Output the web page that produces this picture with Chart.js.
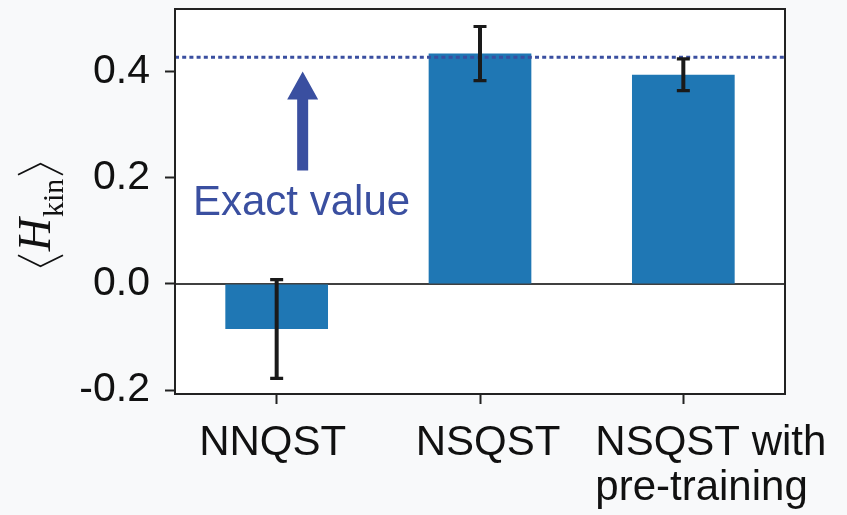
<!DOCTYPE html>
<html>
<head>
<meta charset="utf-8">
<script src="https://cdn.jsdelivr.net/npm/chart.js@4.4.1/dist/chart.umd.min.js"></script>
<style>
  html, body { margin: 0; padding: 0; background: #f8f9fa; }
  #grafico { display: block; }
</style>
</head>
<body>
<canvas id="grafico" width="847" height="515"></canvas>
<script>
// Dados do gráfico
const categorias = ['NNQST', 'NSQST', ['NSQST with', 'pre-training']];
const valores = [-0.085, 0.434, 0.394];
const erros = [0.093, 0.051, 0.030];
const valorExato = 0.427;
const ticksY = [-0.2, 0.0, 0.2, 0.4];
const limitesY = [-0.2075, 0.518];

const corBarra = '#1f77b4';
const corAzul = '#3a4fa0';
const corEixo = '#222222';
const fonte = "'Liberation Sans', Arial, sans-serif";

// Fundo: cinza claro fora, branco dentro da área do gráfico
const fundo = {
    id: 'fundo',
    beforeDraw(chart) {
        const { ctx, chartArea: a } = chart;
        ctx.save();
        ctx.fillStyle = '#f8f9fa';
        ctx.fillRect(0, 0, chart.width, chart.height);
        ctx.fillStyle = '#ffffff';
        ctx.fillRect(a.left, a.top, a.right - a.left, a.bottom - a.top);
        ctx.restore();
    },
    beforeDatasetsDraw(chart) {
        // linha do zero
        const { ctx, chartArea: a, scales: { y } } = chart;
        const y0 = y.getPixelForValue(0);
        ctx.save();
        ctx.strokeStyle = '#000';
        ctx.lineWidth = 1.5;
        ctx.beginPath();
        ctx.moveTo(a.left, y0);
        ctx.lineTo(a.right, y0);
        ctx.stroke();
        ctx.restore();
    }
};

// Linha pontilhada do valor exato + barras de erro
const extras = {
    id: 'extras',
    afterDatasetsDraw(chart) {
        const { ctx, chartArea: a, scales: { y } } = chart;
        ctx.save();
        const yEx = y.getPixelForValue(valorExato);
        ctx.strokeStyle = corAzul;
        ctx.lineWidth = 3;
        ctx.setLineDash([4, 3.2]);
        ctx.beginPath();
        ctx.moveTo(a.left, yEx);
        ctx.lineTo(a.right, yEx);
        ctx.stroke();
        ctx.setLineDash([]);

        const meta = chart.getDatasetMeta(0);
        ctx.strokeStyle = '#1a1a1a';
        meta.data.forEach((barra, i) => {
            const x = barra.x;
            const yA = y.getPixelForValue(valores[i] + erros[i]);
            const yB = y.getPixelForValue(valores[i] - erros[i]);
            ctx.lineWidth = 4;
            ctx.beginPath();
            ctx.moveTo(x, yA); ctx.lineTo(x, yB);
            ctx.stroke();
            ctx.lineWidth = 3.2;
            ctx.beginPath();
            ctx.moveTo(x - 6.5, yA); ctx.lineTo(x + 6.5, yA);
            ctx.moveTo(x - 6.5, yB); ctx.lineTo(x + 6.5, yB);
            ctx.stroke();
        });
        ctx.restore();
    },
    afterDraw(chart) {
        const { ctx, chartArea: a, scales: { x, y } } = chart;
        ctx.save();
        // moldura completa
        ctx.strokeStyle = corEixo;
        ctx.lineWidth = 2;
        ctx.strokeRect(a.left, a.top, a.right - a.left, a.bottom - a.top);

        // seta e texto "Exact value"
        const xs = x.getPixelForValue(0) + 26;
        const yPonta = y.getPixelForValue(0.4);
        ctx.fillStyle = corAzul;
        ctx.beginPath();
        ctx.moveTo(xs, yPonta);
        ctx.lineTo(xs + 15.5, yPonta + 28);
        ctx.lineTo(xs + 5.5, yPonta + 28);
        ctx.lineTo(xs + 5.5, yPonta + 99);
        ctx.lineTo(xs - 5.5, yPonta + 99);
        ctx.lineTo(xs - 5.5, yPonta + 28);
        ctx.lineTo(xs - 15.5, yPonta + 28);
        ctx.closePath();
        ctx.fill();
        ctx.font = '42px ' + fonte;
        ctx.textAlign = 'left';
        ctx.textBaseline = 'alphabetic';
        ctx.fillText('Exact value', 193, 215);

        // rótulos do eixo x
        ctx.fillStyle = '#111';
        categorias.forEach((cat, i) => {
            const cx = x.getPixelForValue(i);
            if (Array.isArray(cat)) {
                ctx.textAlign = 'left';
                cat.forEach((linha, j) => ctx.fillText(linha, cx - 88, 455 + j * 45));
            } else {
                ctx.textAlign = 'center';
                ctx.fillText(cat, cx + (i === 0 ? -4 : 8), 455);
            }
        });

        // título do eixo y: <H_kin>
        ctx.translate(40, 215);
        ctx.rotate(-Math.PI / 2);
        ctx.strokeStyle = '#111';
        ctx.lineWidth = 1.8;
        const fH = "italic 46px 'Liberation Serif', serif";
        const fSub = "30px 'Liberation Serif', serif";
        ctx.font = fH; const wH = ctx.measureText('H').width;
        ctx.font = fSub; const wSub = ctx.measureText('kin').width;
        const wBr = 11, gap = 4;
        const total = wBr + gap + wH + 1 + wSub + gap + wBr;
        let px = -total / 2;
        ctx.beginPath();
        ctx.moveTo(px + wBr, -22); ctx.lineTo(px, 0.5); ctx.lineTo(px + wBr, 23);
        ctx.stroke();
        px += wBr + gap;
        ctx.textAlign = 'left';
        ctx.font = fH;
        ctx.fillText('H', px, 10);
        px += wH + 1;
        ctx.font = fSub;
        ctx.fillText('kin', px, 23);
        px += wSub + gap;
        ctx.beginPath();
        ctx.moveTo(px, -22); ctx.lineTo(px + wBr, 0.5); ctx.lineTo(px, 23);
        ctx.stroke();
        ctx.restore();
    }
};

// Ajusta o tamanho fixo dos eixos e remove o espaço extra dos rótulos
function fixarEixo(s, tamanho) {
    if (s.isHorizontal()) s.height = tamanho; else s.width = tamanho;
    s.paddingTop = 0; s.paddingBottom = 0;
    s.paddingLeft = 0; s.paddingRight = 0;
}

const ctx = document.getElementById('grafico').getContext('2d');
new Chart(ctx, {
    type: 'bar',
    data: {
        labels: categorias,
        datasets: [{
            data: valores,
            backgroundColor: corBarra,
            borderWidth: 0,
            barPercentage: 0.505,
            categoryPercentage: 1.0
        }]
    },
    options: {
        responsive: false,
        animation: false,
        devicePixelRatio: 1,
        layout: { padding: { top: 9, right: 62, left: 0, bottom: 0 } },
        plugins: { legend: { display: false }, tooltip: { enabled: false } },
        scales: {
            x: {
                afterFit: (s) => fixarEixo(s, 121),
                grid: { offset: false, drawOnChartArea: false, drawTicks: true, tickLength: 10, color: corEixo, tickWidth: 2 },
                border: { display: true, color: corEixo, width: 2 },
                ticks: { display: false }
            },
            y: {
                min: limitesY[0],
                max: limitesY[1],
                afterFit: (s) => fixarEixo(s, 175),
                afterBuildTicks: (s) => { s.ticks = ticksY.map((v) => ({ value: v })); },
                grid: { drawOnChartArea: false, drawTicks: true, tickLength: 10, color: corEixo, tickWidth: 2 },
                border: { display: true, color: corEixo, width: 2 },
                ticks: {
                    padding: 15,
                    color: '#111',
                    font: { family: fonte, size: 41 },
                    callback: (v) => Number(v).toFixed(1)
                }
            }
        }
    },
    plugins: [fundo, extras]
});
</script>
</body>
</html>
